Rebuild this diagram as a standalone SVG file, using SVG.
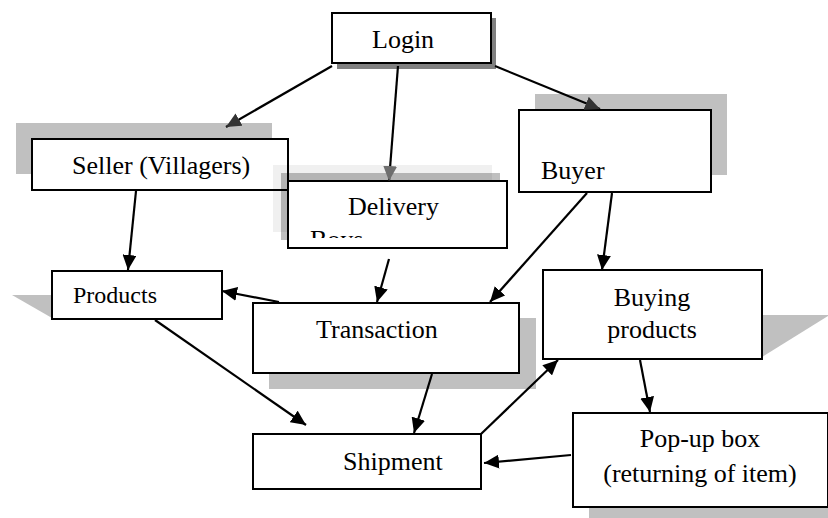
<svg xmlns="http://www.w3.org/2000/svg" width="828" height="518" viewBox="0 0 828 518">
<style>
.box{fill:#fff;stroke:#000;stroke-width:2}
.sh{fill:#c0c0c0}
.t{font-family:"Liberation Serif","Times New Roman",serif;font-size:26px;fill:#000}
.c{stroke:#000;stroke-width:2.2;fill:none}
</style>
<defs>
<marker id="ah" viewBox="0 0 15 14" refX="15" refY="7" markerWidth="15" markerHeight="14" markerUnits="userSpaceOnUse" orient="auto"><path d="M0,0 L15,7 L0,14 z" fill="#000"/></marker>
<marker id="ahd" viewBox="0 0 15 14" refX="15" refY="7" markerWidth="15" markerHeight="14" markerUnits="userSpaceOnUse" orient="auto"><path d="M0,0 L15,7 L0,14 z" fill="#333"/></marker>
<marker id="ahg" viewBox="0 0 15 14" refX="15" refY="7" markerWidth="15" markerHeight="14" markerUnits="userSpaceOnUse" orient="auto"><path d="M0,0 L15,7 L0,14 z" fill="#6e6e6e"/></marker>
<clipPath id="dclip"><rect x="288" y="181" width="219" height="57"/></clipPath>
</defs>
<rect width="828" height="518" fill="#fff"/>
<g id="seller">
<rect class="sh" x="16" y="123" width="256" height="51"/>
<rect class="box" x="32" y="139" width="256" height="51"/>
<text class="t" x="72" y="174">Seller (Villagers)</text>
</g>
<g id="login">
<rect x="337" y="18" width="159" height="51" fill="#808080"/>
<rect class="box" x="332" y="13" width="159" height="50"/>
<text class="t" x="372" y="48">Login</text>
</g>
<g id="buyer">
<rect class="sh" x="535" y="94" width="192" height="81"/>
<rect class="box" x="519" y="110" width="192" height="82"/>
<text class="t" x="541" y="179">Buyer</text>
</g>
<g id="delivery">
<rect x="273" y="165" width="219" height="67" fill="#000" fill-opacity="0.06"/>
<rect x="281" y="173" width="219" height="67" fill="#000" fill-opacity="0.25"/>
<rect class="box" x="288" y="181" width="219" height="67"/>
<text class="t" x="348" y="215">Delivery</text>
<text class="t" x="310" y="248" clip-path="url(#dclip)">Boys</text>
</g>
<g id="products">
<polygon class="sh" points="12,295 52,295 52,318"/>
<rect class="box" x="52" y="271" width="170" height="48"/>
<text class="t" x="73" y="303" style="font-size:24px">Products</text>
</g>
<g id="transaction">
<rect class="sh" x="269" y="318" width="267" height="71"/>
<rect class="box" x="253" y="303" width="266" height="70"/>
<text class="t" x="316" y="338">Transaction</text>
</g>
<g id="buying">
<polygon class="sh" points="762,315 828,315 828,316 762,357"/>
<rect class="box" x="543" y="270" width="219" height="89"/>
<text class="t" x="652" y="306" text-anchor="middle">Buying</text>
<text class="t" x="652" y="338" text-anchor="middle">products</text>
</g>
<g id="shipment">
<rect class="box" x="253" y="434" width="228" height="55"/>
<text class="t" x="343" y="470">Shipment</text>
</g>
<g id="popup">
<rect class="sh" x="589" y="429" width="255" height="94"/>
<rect class="box" x="573" y="413" width="255" height="94"/>
<text class="t" x="700" y="447" text-anchor="middle">Pop-up box</text>
<text class="t" x="700" y="482" text-anchor="middle">(returning of item)</text>
</g>
<g id="connectors">
<line class="c" x1="332" y1="66" x2="226" y2="127" marker-end="url(#ahd)"/>
<line class="c" x1="398" y1="66" x2="389" y2="181" marker-end="url(#ahg)"/>
<line class="c" x1="495" y1="66" x2="600" y2="109" marker-end="url(#ahd)"/>
<line class="c" x1="136" y1="191" x2="128" y2="270" marker-end="url(#ah)"/>
<line class="c" x1="587" y1="193" x2="490" y2="302" marker-end="url(#ah)"/>
<line class="c" x1="612" y1="193" x2="602" y2="270" marker-end="url(#ah)"/>
<line class="c" x1="389" y1="259" x2="377" y2="302" marker-end="url(#ah)"/>
<line class="c" x1="279" y1="302" x2="222" y2="291" marker-end="url(#ah)"/>
<line class="c" x1="155" y1="320" x2="306" y2="425" marker-end="url(#ah)"/>
<line class="c" x1="432" y1="374" x2="414" y2="433" marker-end="url(#ah)"/>
<line class="c" x1="481" y1="434" x2="558" y2="360" marker-end="url(#ah)"/>
<line class="c" x1="640" y1="360" x2="650" y2="412" marker-end="url(#ah)"/>
<line class="c" x1="571" y1="455" x2="484" y2="463" marker-end="url(#ah)"/>
</g>
</svg>
